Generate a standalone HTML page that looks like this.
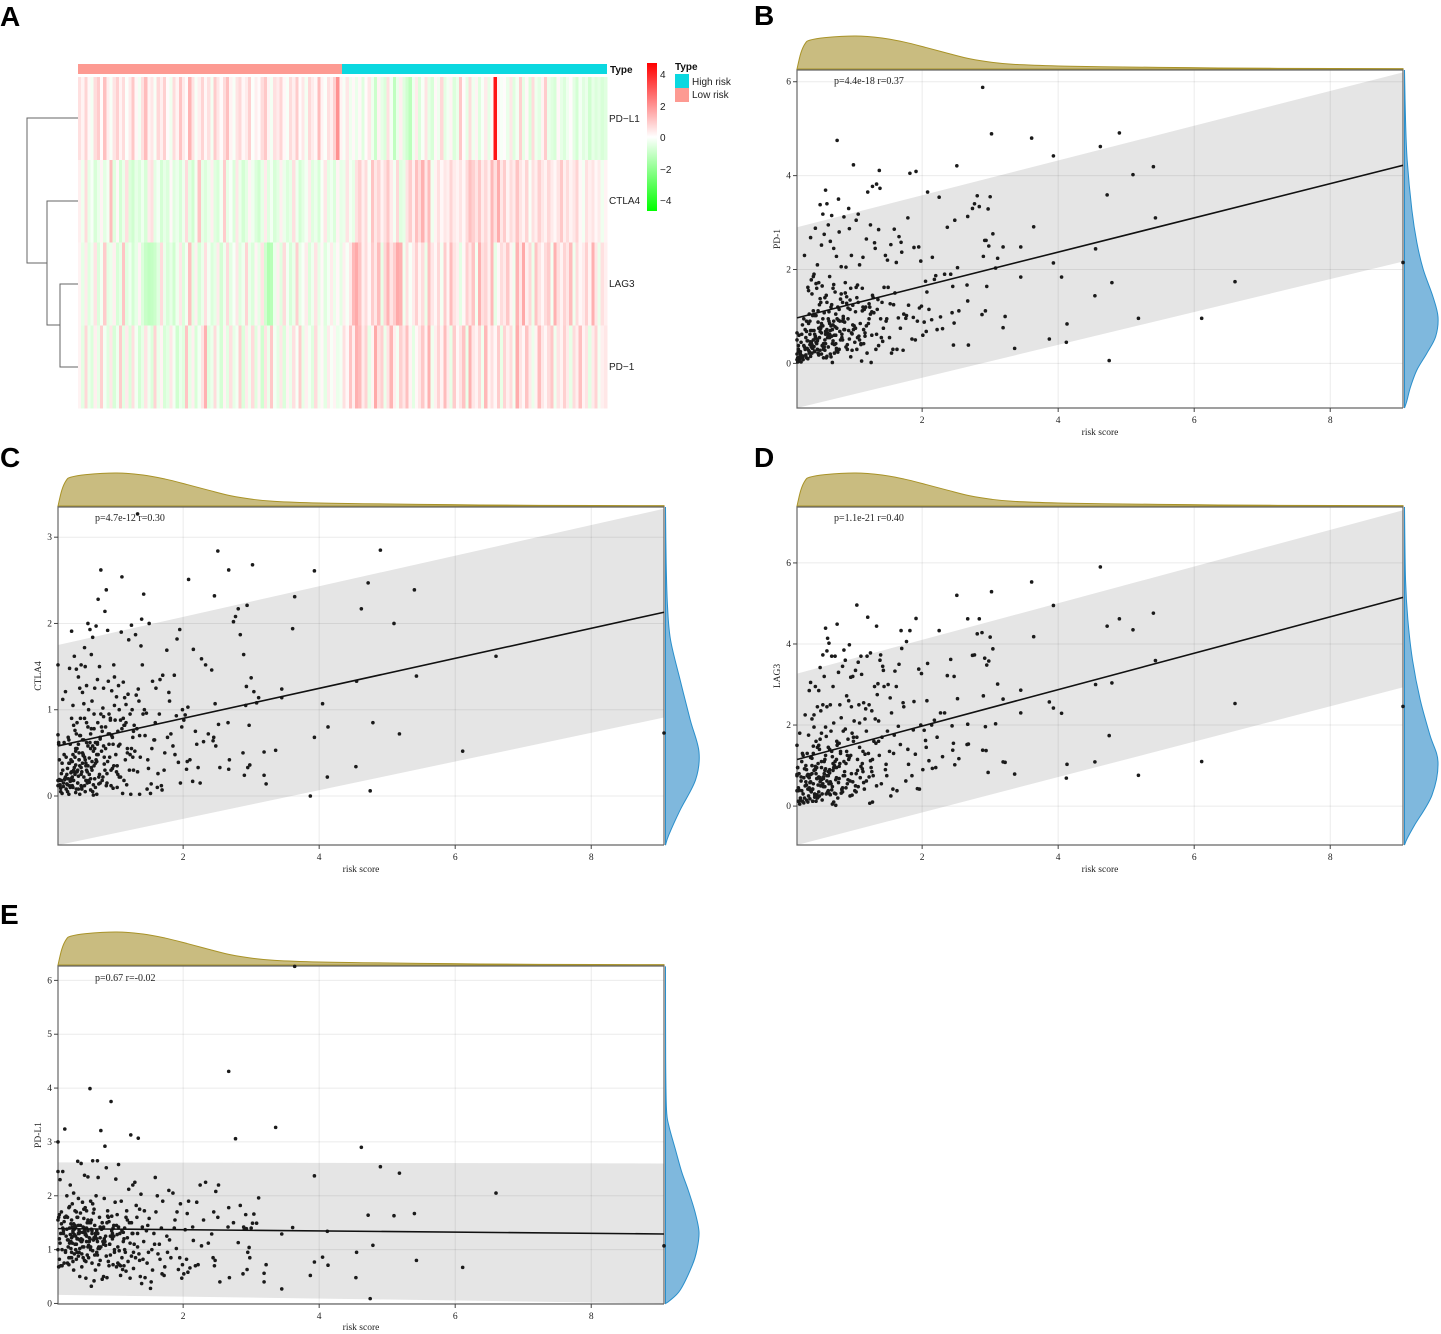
<!DOCTYPE html>
<html lang="en">
<head>
<meta charset="utf-8">
<title>Risk score and immune checkpoint correlations</title>
<style>
html,body{margin:0;padding:0;background:#fff;}
svg{display:block;filter:blur(0.3px);}
.letter{font-family:"Liberation Sans",sans-serif;font-weight:700;font-size:28px;fill:#000;}
.hm{font-family:"Liberation Sans",sans-serif;font-size:10px;fill:#222;}
.hmb{font-family:"Liberation Sans",sans-serif;font-size:10px;font-weight:700;fill:#111;}
.ser{font-family:"Liberation Serif",serif;font-size:9.5px;fill:#222;}
.stat{font-family:"Liberation Serif",serif;font-size:10px;fill:#222;}
</style>
</head>
<body>
<svg id="figure" xmlns="http://www.w3.org/2000/svg" width="1441" height="1334" viewBox="0 0 1441 1334">
  <rect x="0" y="0" width="1441" height="1334" fill="#fff"/>

  <text class="letter" x="0" y="26">A</text>
  <text class="letter" x="754" y="25">B</text>
  <text class="letter" x="0" y="467">C</text>
  <text class="letter" x="754" y="467">D</text>
  <text class="letter" x="0" y="924">E</text>

  <g id="heatmap">
    <g fill="none" stroke="#666" stroke-width="1">
      <path d="M78 118H27V263H47"/>
      <path d="M78 201H47V325H60"/>
      <path d="M78 284H60V367H78"/>
    </g>
    <rect x="78" y="64" width="264" height="10" fill="#fd9a92"/>
    <rect x="342" y="64" width="265" height="10" fill="#0bd8e0"/>
    <g id="heat-cells" shape-rendering="crispEdges"></g>
    <text class="hmb" x="610" y="73">Type</text>
    <text class="hm" x="609" y="122">PD−L1</text>
    <text class="hm" x="609" y="204">CTLA4</text>
    <text class="hm" x="609" y="287">LAG3</text>
    <text class="hm" x="609" y="370">PD−1</text>
    <defs>
      <linearGradient id="cbar" x1="0" y1="0" x2="0" y2="1">
        <stop offset="0" stop-color="#ff0000"/>
        <stop offset="0.5" stop-color="#ffffff"/>
        <stop offset="1" stop-color="#00ff00"/>
      </linearGradient>
    </defs>
    <rect x="647" y="63" width="10" height="148" fill="url(#cbar)"/>
    <text class="hm" x="660" y="78">4</text>
    <text class="hm" x="660" y="110">2</text>
    <text class="hm" x="660" y="141">0</text>
    <text class="hm" x="660" y="173">−2</text>
    <text class="hm" x="660" y="204">−4</text>
    <text class="hmb" x="675" y="70">Type</text>
    <rect x="675" y="74" width="14" height="14" fill="#0bd8e0"/>
    <rect x="675" y="88" width="14" height="14" fill="#fd9a92"/>
    <text class="hm" x="692" y="85">High risk</text>
    <text class="hm" x="692" y="98">Low risk</text>
  </g>

  <g id="panel-b"></g>
  <g id="panel-c"></g>
  <g id="panel-d"></g>
  <g id="panel-e"></g>

  <g>
    <text class="stat" x="834" y="84">p=4.4e-18 r=0.37</text>
    <text class="ser" x="1100" y="435" text-anchor="middle">risk score</text>
    <text class="ser" transform="translate(780,239) rotate(-90)" text-anchor="middle">PD-1</text>
  </g>
  <g>
    <text class="stat" x="95" y="521">p=4.7e-12 r=0.30</text>
    <text class="ser" x="361" y="872" text-anchor="middle">risk score</text>
    <text class="ser" transform="translate(41,676) rotate(-90)" text-anchor="middle">CTLA4</text>
  </g>
  <g>
    <text class="stat" x="834" y="521">p=1.1e-21 r=0.40</text>
    <text class="ser" x="1100" y="872" text-anchor="middle">risk score</text>
    <text class="ser" transform="translate(780,676) rotate(-90)" text-anchor="middle">LAG3</text>
  </g>
  <g>
    <text class="stat" x="95" y="981">p=0.67 r=-0.02</text>
    <text class="ser" x="361" y="1330" text-anchor="middle">risk score</text>
    <text class="ser" transform="translate(41,1135) rotate(-90)" text-anchor="middle">PD-L1</text>
  </g>
</svg>

<script>
// ---------- heatmap values (one array per gene, left to right) ----------
const heatPdl1 = [
.8,.3,1.1,.2,-.3,.9,1.3,.1,1.6,.4,-.2,.7,1.2,.3,.9,-.1,
.5,1.4,.2,-.3,.8,1.7,.3,.6,-.2,1.0,.4,1.2,.1,-.4,.9,.3,
1.5,.5,.1,1.9,.7,-.2,.4,1.1,.2,.8,-.3,1.3,.6,.1,.9,1.6,
.3,-.2,.7,1.0,.2,.5,1.2,-.1,.4,.1,.9,1.4,.3,-.3,.8,.5,
1.1,.2,-.2,.9,.4,1.3,.1,.6,-.3,1.0,.5,.2,1.7,.3,-.1,.8,
.4,1.2,2.8,.3,-.2,.6,-.4,.2,
-.5,.2,-.8,.1,.6,-.4,-1.3,.3,-.6,-.9,.8,-.3,-1.6,-.5,.4,-.8,
-1.2,-1.7,-.4,.5,-.9,-.2,.7,-.6,-1.0,.2,-.4,1.0,-.7,-.3,.3,-.9,
-.5,1.4,.1,-.6,.9,-.4,.3,-.8,-.2,.5,-.6,.2,6,.3,-.2,.1,
-.5,.6,-.8,-.3,1.2,-.6,.2,-.9,.9,-.4,-.7,.3,1.3,-.5,-.8,-1.0,
.2,-.6,-.9,-.4,.1,-.7,-1.1,-.3,-.8,-.5,-1.2,-.6,-.9,-.7,-1.0,-.8
];
const heatCtla4 = [
.4,-.4,.9,-.6,-.2,-1.0,-.5,.3,-.7,-.3,1.7,-.8,.2,-1.1,-.5,.8,
-.9,-1.2,-.6,-.9,-.4,-1.0,.5,.8,-.7,-.3,-1.1,-.6,-.9,.2,-.8,-.5,
-1.0,-.4,.9,-.7,-1.2,-.3,1.5,-.6,-.9,-.5,.4,-.8,-1.0,-.3,1.3,-.6,
-.2,-.9,.6,-.5,-1.1,-.7,.3,-.4,-.9,-1.2,-.6,.5,-.8,-.3,-1.0,-.7,
.4,-.5,-.9,-.6,.8,-.4,-1.1,-.7,-.3,.5,-.8,-.5,-1.0,-.2,.6,-.7,
-.4,-.9,.3,-.6,-.5,.7,-.3,-.6,
.8,1.2,.4,.9,-.2,1.5,.6,1.1,.3,.8,1.4,.5,-.3,1.0,-.8,-.6,
.7,1.3,.4,1.6,.9,2.0,.6,1.7,-.4,.3,.8,.2,.6,.4,1.1,.5,
.3,.7,.2,.9,1.6,1.2,.7,1.4,.5,1.0,.4,1.8,.8,2.1,.6,1.3,
.3,.9,.5,1.5,.7,.3,1.1,-.2,.8,.4,1.2,.6,.3,1.0,.5,.2,
.7,1.4,.4,.9,.3,.6,1.1,.2,-.3,.8,.4,.7,.2,.5,-.4,.3
];
const heatLag3 = [
.3,-.6,.5,-.8,-.4,.7,-.9,-.3,1.3,-.7,-.5,.4,-1.0,-.6,1.5,-.8,
-.4,-1.1,-.6,.3,-.9,-1.4,-1.6,-1.5,-1.3,-.8,.9,-.5,-1.0,-.6,-1.2,-.4,
.6,-.9,-.3,1.6,-.7,.4,-1.0,-.5,.8,-.3,-.9,-.6,.5,-1.1,-.4,.9,
-.7,-.2,.6,-.8,-.4,1.1,-.5,-.9,.3,-.6,.7,-1.2,-2.0,-1.8,-.5,.4,
-.8,.9,-.3,-1.0,-.5,1.2,-.6,-.2,.5,-.9,-.4,.7,-.6,.2,-.8,-.3,
.5,-.5,.2,-.7,.4,-.2,.6,1.8,
2.2,1.5,.4,.9,.2,1.3,.6,1.7,-.6,1.0,1.9,.7,1.3,2.2,2.0,-.4,
.8,-.2,.5,1.2,.3,.9,-.5,1.6,.6,.2,1.0,-.3,1.3,.3,1.7,.7,
.4,-.7,.2,1.2,.6,1.5,-.3,2.0,.8,1.1,.4,1.8,-.6,.2,.9,.5,
1.4,.3,-.4,1.9,.6,2.2,.4,1.0,-.5,1.5,.7,.2,.9,1.3,-.3,2.0,
.8,.3,1.1,.6,1.7,-.4,.9,.2,.5,1.2,.3,2.0,.6,-.5,.8,.4
];
const heatPd1 = [
.3,-.7,1.0,-.5,-.9,.4,-.6,1.2,-.3,-.8,.6,-1.0,-.4,1.3,-.7,.5,
-.9,.8,-.3,-1.1,-.6,.7,-.4,-.9,1.1,-.5,.3,-1.0,-.7,.6,-.3,-1.2,
-.5,-.8,1.5,-.6,.4,-1.0,-.3,.7,2.0,-.8,-.5,.9,-.4,-1.1,.3,-.7,
.8,-.6,-.3,1.2,-.9,.5,-.4,.9,-.8,.3,-1.2,.7,-.5,1.4,-.3,-.7,
.6,-.9,.3,-.5,.8,-.2,1.3,-.6,.4,-.3,-.8,.9,-.4,.2,-.7,.5,
-.2,.3,-.5,-.3,.8,.2,1.5,.4,
2.0,1.7,.5,1.1,-.6,.3,2.2,.8,1.2,-.5,.7,1.9,.4,-.3,1.2,.6,
1.6,.3,-.7,.2,.6,1.4,.3,2.0,-.4,.4,1.1,.3,1.7,.5,-.6,1.3,
.2,.7,1.5,-.5,2.0,.6,.3,1.0,-.4,1.8,.3,.8,.2,1.3,-.6,1.1,
.4,.9,-.3,2.1,.7,.2,1.5,.5,-.5,.3,1.7,.6,.2,.9,1.4,-.4,
.7,.3,1.2,.5,-.6,.9,.4,1.6,.3,.7,-.7,.5,1.1,-.3,.4,.6
];
const heatRows = [heatPdl1, heatCtla4, heatLag3, heatPd1];

// ---------- scatter values, one entry per sample, same order in every array ----------
const riskScore = [
9.07,6.6,6.11,5.43,5.4,5.18,5.1,4.9,4.79,4.75,
4.72,4.62,4.55,4.54,4.13,4.12,4.05,3.93,3.93,3.87,
3.64,3.61,3.45,3.45,3.36,3.22,3.19,3.19,3.11,3.08,
3.04,3.02,3.0,2.98,2.97,2.95,2.94,2.93,2.92,2.9,
2.89,2.88,2.84,2.81,2.77,2.74,2.68,2.67,2.67,2.66,
2.54,2.52,2.51,2.48,2.47,2.46,2.45,2.44,2.42,2.37,
2.33,2.3,2.27,2.25,2.22,2.2,2.18,2.15,2.14,2.1,
2.08,2.07,2.06,2.05,2.03,2.01,1.99,1.98,1.96,1.95,
1.93,1.91,1.9,1.88,1.87,1.85,1.82,1.8,1.79,1.77,
1.76,1.73,1.72,1.7,1.69,1.68,1.66,1.65,1.63,1.62,
1.6,1.59,1.57,1.55,1.54,1.53,1.52,1.5,1.49,1.47,
1.46,1.44,1.43,1.42,1.4,1.39,1.38,1.37,1.36,1.35,
1.34,1.33,1.32,1.31,1.3,1.29,1.28,1.27,1.26,1.25,
1.24,1.23,1.22,1.21,1.2,1.19,1.18,1.17,1.16,1.15,
1.14,1.13,1.12,1.11,1.1,1.09,1.08,1.07,1.06,1.05,
1.04,1.03,1.02,1.01,1,.99,.98,.97,.96,.95,
.95,.94,.93,.92,.91,.9,.89,.88,.87,.86,
.85,.84,.83,.82,.81,.8,.79,.78,.77,.76,
.75,.745,.74,.73,.73,.72,.71,.7,.7,.69,
.68,.68,.67,.66,.66,.65,.64,.64,.63,.62,
.62,.61,.6,.6,.59,.58,.58,.57,.56,.56,
.55,.54,.54,.53,.52,.52,.51,.5,.5,.49,
.48,.48,.47,.46,.46,.45,.44,.44,.43,.42,
.42,.41,.4,.4,.39,.38,.38,.37,.36,.36,
.35,.34,.34,.33,.32,.32,.31,.3,.3,.29,
.28,.28,.27,.26,.25,.24,.23,.22,.21,.2,
.19,.18,.17,.16,.16,.16,.16,.17,.18,.2,
1.12,1.05,.98,.92,.88,.84,.8,.77,.74,.71,
1.22,1.1,1.02,.93,.86,.82,.78,.72,.68,.64,
.6,.57,.53,.5,.47,.43,.39,.36,.33,.29,
.66,.62,.58,.55,.52,.48,.45,.41,.37,.34,
.7,.65,.61,.56,.51,.46,.42,.38,.35,.31,
1.58,1.48,1.41,1.33,1.27,1.18,1.13,1.08,1.03,.99,
.94,.9,.87,.83,.79,.76,.73,.69,.67,.63,
.59,.55,.52,.49,.46,.44,.41,.39,.37,.33,
1.36,1.26,1.16,1.06,.97,.91,.85,.81,.75,.71,
.67,.64,.6,.57,.54,.5,.47,.43,.4,.36,
1.24,1.14,1.04,.96,.89,.83,.78,.74,.69,.65,
.62,.58,.55,.51,.48,.45,.42,.38,.35,.32,
.3,.27,.25,.24,.22,.21,.19,.18,.23,.26
];
const pd1Values = [
2.15,1.74,.96,3.1,4.19,.96,4.02,4.91,1.72,.06,
3.59,4.62,2.44,1.44,.84,.45,1.84,4.42,2.14,.52,
2.91,4.8,1.84,2.48,.32,1.0,.76,2.48,2.24,2.03,
2.76,4.89,3.55,2.5,3.29,1.64,2.62,1.12,2.62,2.28,
5.88,1.04,3.34,3.57,3.4,3.3,.39,1.33,3.13,1.67,
1.12,2.04,4.21,3.05,.86,.39,1.64,1.08,1.9,2.9,
1.9,.74,.99,3.54,.72,1.87,1.79,2.26,.93,1.15,
3.65,1.52,.68,1.75,.88,.6,1.22,2.18,1.18,2.48,
.9,4.09,.5,2.47,.98,.52,4.05,1.24,3.1,1.02,
.96,1.05,.28,2.37,2.58,.75,2.7,.97,.3,2.15,
1.5,2.86,.3,.22,2.53,1.27,.55,1.62,2.2,.9,
2.3,1.62,.75,.47,.55,.95,3.73,4.11,2.85,1.36,
1.15,3.82,.3,2.45,2.57,1.08,1.4,3.77,.6,.02,
2.95,1.2,1.27,.85,3.65,.22,2.65,1.2,.65,1.15,
.72,2.26,1.6,.05,.42,.85,2.1,.58,3.18,1.67,
.3,3.05,1.1,.45,.8,4.23,1.24,.63,2.3,1.6,
.14,1.15,2.87,3.3,.95,.4,1.42,2.05,1.72,.72,
3.12,.95,1.3,.55,2.06,1.37,.9,2.8,3.5,.24,
4.75,.75,2.28,1.05,.6,1.52,.22,2.45,1.68,.48,
.02,.72,3.15,1.2,.14,2.6,.55,1.85,.9,.35,
2.95,.65,1.3,3.4,.12,3.69,.68,.28,2.75,1.08,
.42,3.18,.95,1.65,.2,2.52,.75,1.38,3.38,.55,
.18,1.72,.88,2.1,.3,1.6,1.02,.45,2.88,.62,
.25,1.9,.5,1.12,.32,1.48,.7,1.78,.15,2.68,
.4,1.05,.22,.85,1.62,.1,.48,.9,.12,.55,
.3,.72,2.3,.38,.08,.16,.62,.03,.2,.1,
.05,.25,.12,.65,.5,.08,.2,.03,.3,.14,
1.12,.55,.82,.7,.35,1.0,.5,.92,.28,.6,
.95,.4,.75,.52,.88,.62,.3,.78,.42,.85,
.72,.5,.38,.68,.22,.58,.32,.46,.28,.18,
.8,.6,.42,.3,.65,.2,.52,.36,.45,.25,
.9,.7,.55,.35,.78,.48,.26,.4,.62,.32,
1.25,.95,1.3,.62,1.45,.8,1.2,.5,1.62,.72,
1.35,.3,1.5,.9,.68,1.2,.42,1.6,.58,1.1,
1.45,.33,.85,1.25,.5,1.7,.7,1.02,.35,1.55,
.38,1.1,.58,1.3,.28,1.18,.72,1.48,.95,.4,
1.25,.62,.15,1.4,.8,.28,1.12,.55,1.85,.7,
1.05,.42,1.4,.65,1.28,.5,1.15,.32,.82,.2,
.95,.62,.12,1.3,.75,.42,1.02,.22,.9,.48,
.68,.35,.15,.82,.45,.25,.6,.38,.12,.95
];
const ctla4Values = [
.73,1.62,.52,1.39,2.39,.72,2.0,2.85,.85,.06,
2.47,2.17,1.33,.34,.8,.22,1.07,2.61,.68,0,
2.31,1.94,1.24,1.14,.53,.14,.24,.51,1.14,1.08,
1.21,2.68,1.37,.36,.82,.33,2.21,1.27,1.05,.24,
1.64,.5,1.87,2.17,2.08,2.02,.42,2.62,.31,.85,
.33,.83,2.84,.58,1.07,2.32,.68,.64,1.46,.72,
1.52,.63,1.59,.15,.33,.6,.75,1.7,.17,.42,
2.51,1.03,.4,.31,.94,.88,1.0,.8,.15,1.93,
.39,1.82,.93,.48,1.4,.58,.72,1.1,1.2,.68,
1.69,.5,.3,1.4,.07,.12,1.35,.95,.26,.1,
1.25,.85,.65,1.33,.55,.14,.03,2.0,.32,.08,
.96,.7,1.0,2.34,1.52,2.05,1.74,.45,.02,1.1,
1.24,3.27,.78,1.17,1.87,.52,.82,.3,.68,1.0,
1.98,.02,.95,.3,1.81,1.18,.5,.13,1.06,.42,
1.14,.82,1.32,.03,2.54,1.9,.22,.6,1.0,1.28,
.75,.1,1.15,.48,.88,1.38,1.52,.09,.32,.7,
1.22,.12,.9,.45,.6,1.33,1.92,.26,2.39,.8,
2.14,.37,1.25,1.02,.18,.52,2.62,.66,1.5,.14,
2.28,.85,1.35,.02,.4,1.97,.62,1.25,.2,.95,
.01,.52,1.84,1.1,.3,1.64,.72,.07,1.93,.44,
.16,1.0,2.0,.58,.28,1.28,.85,.38,1.5,.05,
1.72,.22,1.07,.47,1.2,.65,.1,1.52,.33,.9,
.02,1.25,.42,.6,1.38,.15,.85,.28,1.47,.52,
.04,.76,1.62,.33,.18,.48,1.05,.12,1.91,.28,
.2,.6,.1,1.48,.38,.02,.68,.13,.05,.25,
.45,.08,1.21,.19,.62,.11,1.12,.03,.18,.09,
.13,.18,.6,1.52,.71,.18,.12,.62,.19,.05,
.9,.58,.35,.72,.15,.45,.8,.25,.62,.38,
.48,.78,.28,.88,.55,.22,.68,.42,.13,.55,
.35,.18,.48,.25,.42,.08,.3,.2,.38,.14,
.4,.25,.3,.12,.5,.35,.15,.45,.22,.17,
.55,.33,.18,.42,.28,.23,.36,.1,.27,.2,
.65,.42,.95,.28,.75,.55,.18,.88,.35,1.05,
.3,.72,.12,.58,.95,.22,.48,.78,.05,.62,
.15,.9,.38,.7,.08,.55,.25,.82,.4,.12,
.7,.45,.85,.22,.6,.95,.3,.75,.48,.1,
.58,.2,.8,.35,.65,.12,.5,.72,.28,.9,
.55,.82,.25,.68,.4,.92,.15,.6,.35,.78,
.25,.62,.45,.08,.7,.3,.55,.18,.42,.65,
.32,.22,.48,.15,.38,.26,.12,.42,.3,.2
];
const lag3Values = [
2.46,2.53,1.1,3.59,4.76,.76,4.35,4.62,3.04,1.74,
4.44,5.9,3.0,1.09,1.03,.69,2.29,4.95,2.42,2.57,
4.18,5.53,2.3,2.86,.79,1.08,1.09,2.64,3.01,2.03,
3.88,5.29,4.17,3.58,.83,3.48,1.37,1.96,3.65,2.72,
1.38,4.28,4.62,4.25,3.73,3.72,1.53,4.62,2.02,1.52,
1.17,2.65,5.2,1.02,3.2,1.55,1.38,1.98,3.62,3.22,
2.3,1.22,2.3,4.33,1.7,.95,2.12,.93,2.0,1.12,
3.52,2.6,1.45,1.62,1.87,.9,3.27,2.0,.42,3.38,
.43,4.63,1.28,2.58,1.88,.75,4.33,1.03,1.4,4.06,
.62,2.45,2.55,3.89,4.33,1.52,3.5,1.97,.38,2.95,
3.33,1.75,.42,2.3,.25,2.67,1.35,3.0,1.85,1.03,
.9,2.95,3.35,3.45,.55,3.73,3.6,1.25,2.1,3.02,
2.75,4.44,1.55,2.15,2.95,1.6,.75,.1,2.35,.95,
3.78,.07,2.5,1.3,4.66,3.7,.62,2.4,2.15,.42,
2.55,1.35,.92,3.25,3.7,.7,2.05,2.5,3.55,1.15,
4.96,.8,3.35,.38,2.1,1.7,3.2,.27,2.45,1.25,
3.18,.25,3.98,2.6,1.65,.55,2.72,1.05,3.6,.75,
3.85,1.85,3.45,.42,2.18,1.3,2.5,.98,3.3,.2,
4.49,1.6,1.15,.02,.65,3.7,1.0,2.05,.1,2.95,
.05,1.22,3.7,.55,1.85,2.5,.9,.3,4.02,1.45,
.75,4.14,3.83,2.45,.3,1.95,4.39,.48,3.2,1.1,
.72,3.73,2.5,.15,1.8,.95,2.35,.6,3.42,1.4,
.35,2.85,1.05,.2,2.45,.68,1.6,.12,2.95,.9,
.28,2.25,.55,1.48,.12,.8,2.15,.38,3.05,1.2,
.18,2.85,.7,1.75,.1,.42,1.3,.9,.15,1.0,
.5,2.25,.2,.08,1.25,.12,.38,.72,.14,1.8,
.4,.38,.95,1.5,.75,.78,.38,.95,.12,.05,
1.05,.88,.6,1.15,.45,.75,1.35,.58,.95,.32,
.72,.98,.5,1.2,.85,.4,.68,1.1,.48,.82,
.62,.88,.3,.7,.52,.98,.42,.78,.25,.6,
.55,.38,.92,.48,.65,.72,.28,.88,.35,.45,
.95,.6,.35,.8,.5,.68,.22,1.0,.4,.75,
1.3,.75,1.7,.5,1.15,1.85,.85,1.45,.35,1.6,
.62,1.25,1.9,.45,1.05,1.55,.3,.88,1.35,.55,
1.72,.68,1.1,.25,1.45,.8,1.95,.42,1.2,.72,
1.6,.85,1.28,.48,1.8,.65,1.1,.32,1.5,.95,
.4,1.4,.75,1.15,.55,1.65,.22,.9,1.3,.6,
1.12,.58,1.7,.8,1.35,.35,1.55,.7,1.05,.28,
.85,1.25,.48,.65,1.5,.95,.3,1.18,.58,.78,
.52,.92,.3,1.3,.62,.2,.8,.45,1.1,.7
];
const pdl1Values = [
1.07,2.05,.67,.8,1.67,2.42,1.63,2.54,1.08,.09,
1.64,2.9,.95,.48,.71,1.34,.86,2.37,.77,.52,
6.26,1.41,.27,1.29,3.27,.72,.56,.4,1.96,1.49,
1.66,1.49,1.4,.85,1.04,.95,.63,1.39,1.65,1.38,
1.42,.55,1.82,1.13,3.06,1.5,.48,4.31,1.78,1.42,
.4,2.2,1.6,2.08,.8,.7,1.7,.85,1.29,1.12,
2.25,1.55,1.07,2.2,.72,1.88,.7,1.17,1.42,.66,
1.9,.58,1.67,.82,1.37,.55,.72,.47,1.85,.85,
.63,1.7,1.02,1.55,1.4,2.05,.85,1.18,2.1,.95,
1.25,.68,.52,1.9,.55,1.4,.82,1.1,.92,2.0,
1.7,2.34,1.3,.62,1.0,.4,.28,1.58,.95,.75,
1.35,.48,1.72,1.15,1.42,.37,2.03,.5,1.75,.92,
3.07,1.05,1.6,1.82,.85,2.25,1.1,.65,2.2,1.3,
.88,3.13,.47,1.5,2.12,.78,1.22,1.72,.6,.95,
1.4,.7,1.15,.63,.85,1.9,.52,1.3,.72,2.58,
1.05,1.28,.68,2.31,1.88,.95,1.45,.72,1.2,1.62,
1.35,3.75,.9,1.1,1.52,.78,1.72,.48,2.52,1.25,
2.92,1.95,.5,1.15,.45,1.38,3.21,.8,1.6,1.05,
2.34,1.3,2.65,.95,1.2,2.0,.62,1.45,.9,.42,
1.68,1.18,2.65,.75,1.35,.32,1.0,1.9,3.99,1.5,
1.22,.85,1.55,2.35,.9,1.4,1.15,.47,1.78,1.28,
2.38,1.05,1.75,.85,1.32,1.88,.68,1.15,2.6,1.45,
1.02,.5,1.3,1.95,.88,2.64,1.2,1.6,.82,1.42,
1.1,1.72,.92,1.38,2.05,.78,1.25,1.85,.95,1.55,
1.15,2.2,.85,1.4,1.78,.72,1.05,1.6,.75,2.0,
1.25,1.62,.98,3.24,.75,1.35,2.45,.7,1.48,1.3,
2.3,1.65,.68,3.0,1.55,2.45,1.0,1.6,1.2,.7,
1.32,1.42,1.25,1.1,1.5,1.2,1.38,1.02,1.15,1.3,
1.12,1.35,1.45,1.25,1.08,1.4,1.22,1.3,1.18,1.5,
1.05,1.28,1.42,1.18,1.35,1.1,1.48,1.22,1.12,1.38,
1.3,1.15,1.25,1.4,1.05,1.32,1.2,1.1,1.42,1.28,
1.22,1.38,1.08,1.3,1.15,1.45,1.25,1.35,1.02,1.18,
1.1,1.45,.82,1.3,.95,1.55,1.2,.7,1.65,1.0,
1.25,1.6,.88,1.42,1.05,.72,1.35,1.75,.98,1.2,
1.5,.8,1.18,1.68,1.3,.95,1.45,.62,1.12,1.8,
.8,1.3,1.6,.98,1.4,.7,1.15,1.5,1.02,1.25,
1.85,1.05,1.35,.78,1.58,1.2,.95,1.7,1.28,.85,
1.5,1.0,.75,1.3,1.62,1.1,1.42,.9,1.22,1.55,
1.05,1.72,1.35,.92,1.18,1.6,1.0,1.32,1.48,.85,
1.18,.95,1.52,1.3,1.0,1.7,1.12,.82,1.4,1.6
];

// ---------- regression fit and prediction band at the two ends of the x range ----------
const fitEndsX = [0.16, 9.07];
const fitPd1 = [0.97, 4.22];
const upperPd1 = [2.9, 6.2];
const lowerPd1 = [-0.95, 2.17];
const fitCtla4 = [0.58, 2.13];
const upperCtla4 = [1.75, 3.33];
const lowerCtla4 = [-0.57, 0.91];
const fitLag3 = [1.15, 5.15];
const upperLag3 = [3.27, 7.3];
const lowerLag3 = [-0.96, 2.93];
const fitPdl1 = [1.39, 1.29];
const upperPdl1 = [2.62, 2.6];
const lowerPdl1 = [0.16, 0.0];

// ---------- marginal densities ----------
const topDensityX = [0.16,0.216,0.28,0.345,0.57,1.02,1.41,1.73,2.06,2.38,2.7,3.03,3.35,4,4.64,5.94,7.23,9.07];
const topDensityH = [0,0.48,0.77,0.87,0.95,1,0.94,0.82,0.65,0.475,0.31,0.2,0.14,0.09,0.07,0.04,0.02,0.01];
const densPd1Y = [6.25,5.2,4.33,3.27,2.57,2.0,1.42,0.99,0.57,0.22,-0.14,-0.5,-0.8,-0.95];
const densPd1H = [0,0.03,0.08,0.22,0.37,0.56,0.85,1,0.93,0.67,0.37,0.18,0.07,0];
const densCtla4Y = [3.35,2.7,2.2,1.81,1.34,0.88,0.51,0.19,-0.16,-0.45,-0.57];
const densCtla4H = [0,0.02,0.06,0.15,0.44,0.74,1,0.9,0.44,0.1,0];
const densLag3Y = [7.38,5.6,4.6,3.6,2.62,1.75,1.09,0.27,-0.47,-0.8,-0.96];
const densLag3H = [0,0.03,0.1,0.24,0.47,0.76,1,0.82,0.3,0.08,0];
const densPdl1Y = [6.26,4.5,3.6,3.3,2.85,2.45,2.1,1.7,1.33,1.0,0.71,0.25,0.05,0];
const densPdl1H = [0,0.005,0.03,0.1,0.3,0.48,0.68,0.88,1,0.94,0.8,0.44,0.12,0];

// ---------- tick labels ----------
const xTicks = [2, 4, 6, 8];
const yTicksPd1 = [0, 2, 4, 6];
const yTicksCtla4 = [0, 1, 2, 3];
const yTicksLag3 = [0, 2, 4, 6];
const yTicksPdl1 = [0, 1, 2, 3, 4, 5, 6];

const SVGNS = 'http://www.w3.org/2000/svg';
function mk(parent, tag, attrs) {
  const el = document.createElementNS(SVGNS, tag);
  for (const k in attrs) el.setAttribute(k, attrs[k]);
  parent.appendChild(el);
  return el;
}

// heatmap
const heatLeft = 78, heatRight = 607, heatTop = 77, heatRowH = 82.75;
function heatColor(v) {
  const t = Math.min(1, Math.abs(v) / 6.5);
  const c = Math.round(255 * (1 - t));
  return v >= 0 ? 'rgb(255,' + c + ',' + c + ')' : 'rgb(' + c + ',255,' + c + ')';
}
const heatCells = document.getElementById('heat-cells');
heatRows.forEach(function (row, r) {
  const cw = (heatRight - heatLeft) / row.length;
  row.forEach(function (v, c) {
    const cell = mk(heatCells, 'rect', {x: heatLeft + c * cw, y: heatTop + r * heatRowH, width: cw + 0.4, height: heatRowH + 0.4, fill: heatColor(v)});
    
    
  });
});

// smooth path through points
function smooth(pts) {
  let d = 'M' + pts[0][0].toFixed(2) + ' ' + pts[0][1].toFixed(2);
  for (let i = 0; i < pts.length - 1; i++) {
    const p0 = pts[Math.max(0, i - 1)], p1 = pts[i], p2 = pts[i + 1], p3 = pts[Math.min(pts.length - 1, i + 2)];
    const c1x = p1[0] + (p2[0] - p0[0]) / 6, c1y = p1[1] + (p2[1] - p0[1]) / 6;
    const c2x = p2[0] - (p3[0] - p1[0]) / 6, c2y = p2[1] - (p3[1] - p1[1]) / 6;
    d += 'C' + c1x.toFixed(2) + ' ' + c1y.toFixed(2) + ' ' + c2x.toFixed(2) + ' ' + c2y.toFixed(2) + ' ' + p2[0].toFixed(2) + ' ' + p2[1].toFixed(2);
  }
  return d;
}

function drawPanel(cfg) {
  const g = document.getElementById(cfg.id);
  const L = cfg.left, T = cfg.top, W = 606, H = 338;
  const xMin = fitEndsX[0], xMax = fitEndsX[1];
  const sx = function (v) { return L + (v - xMin) / (xMax - xMin) * W; };
  const sy = function (v) { return T + (cfg.yMax - v) / (cfg.yMax - cfg.yMin) * H; };

  // prediction band
  const band = mk(g, 'polygon', {
    points: sx(fitEndsX[0]) + ',' + sy(cfg.upper[0]) + ' ' + sx(fitEndsX[1]) + ',' + sy(cfg.upper[1]) + ' ' + sx(fitEndsX[1]) + ',' + sy(cfg.lower[1]) + ' ' + sx(fitEndsX[0]) + ',' + sy(cfg.lower[0]),
    fill: '#e5e5e5'
  });
  
  

  // grid
  xTicks.forEach(function (t) {
    const line = mk(g, 'line', {x1: sx(t), x2: sx(t), y1: T, y2: T + H, stroke: 'rgba(0,0,0,0.08)', 'stroke-width': 1});
    
    
  });
  cfg.yTicks.forEach(function (t) {
    const line = mk(g, 'line', {x1: L, x2: L + W, y1: sy(t), y2: sy(t), stroke: 'rgba(0,0,0,0.08)', 'stroke-width': 1});
    
    
  });

  // marginal density on top
  const topPts = topDensityX.map(function (x, i) { return [sx(x), T - 1 - topDensityH[i] * 33]; });
  const topArea = mk(g, 'path', {d: smooth(topPts) + 'L' + (L + W) + ' ' + (T - 1) + 'L' + L + ' ' + (T - 1) + 'Z', fill: '#c9bc80', stroke: '#a99328', 'stroke-width': 1});
  
  

  // marginal density on right
  const rightPts = cfg.densY.map(function (y, i) { return [L + W + 1.5 + cfg.densH[i] * 33.5, sy(y)]; });
  const rightArea = mk(g, 'path', {d: smooth(rightPts) + 'Z', fill: '#7fb8dd', stroke: '#2a8fcb', 'stroke-width': 1});
  
  

  // axes
  const frame = mk(g, 'path', {d: 'M' + (L + W) + ' ' + (T + H) + 'V' + T + 'H' + L + 'V' + (T + H) + 'H' + (L + W), fill: 'none', stroke: '#666', 'stroke-width': 1.2});
  
  

  xTicks.forEach(function (t) {
    const tick = mk(g, 'line', {x1: sx(t), x2: sx(t), y1: T + H, y2: T + H + 4, stroke: '#444', 'stroke-width': 1});
    
    
    const label = mk(g, 'text', {x: sx(t), y: T + H + 15, 'text-anchor': 'middle', 'class': 'ser'});
    label.textContent = t;
    
    
  });
  cfg.yTicks.forEach(function (t) {
    const tick = mk(g, 'line', {x1: L - 4, x2: L, y1: sy(t), y2: sy(t), stroke: '#444', 'stroke-width': 1});
    
    
    const label = mk(g, 'text', {x: L - 6, y: sy(t) + 3, 'text-anchor': 'end', 'class': 'ser'});
    label.textContent = t;
    
    
  });

  // points
  cfg.values.forEach(function (v, i) {
    const dot = mk(g, 'circle', {cx: sx(riskScore[i]), cy: sy(v), r: 1.8, fill: '#1a1a1a'});
    
    
  });

  // regression line
  const fit = mk(g, 'line', {x1: sx(fitEndsX[0]), y1: sy(cfg.fit[0]), x2: sx(fitEndsX[1]), y2: sy(cfg.fit[1]), stroke: '#111', 'stroke-width': 1.6});
  
  
}

drawPanel({id: 'panel-b', left: 797, top: 70, yMax: 6.25, yMin: -0.95, yTicks: yTicksPd1, values: pd1Values, fit: fitPd1, upper: upperPd1, lower: lowerPd1, densY: densPd1Y, densH: densPd1H});
drawPanel({id: 'panel-c', left: 58, top: 507, yMax: 3.35, yMin: -0.568, yTicks: yTicksCtla4, values: ctla4Values, fit: fitCtla4, upper: upperCtla4, lower: lowerCtla4, densY: densCtla4Y, densH: densCtla4H});
drawPanel({id: 'panel-d', left: 797, top: 507, yMax: 7.38, yMin: -0.96, yTicks: yTicksLag3, values: lag3Values, fit: fitLag3, upper: upperLag3, lower: lowerLag3, densY: densLag3Y, densH: densLag3H});
drawPanel({id: 'panel-e', left: 58, top: 966, yMax: 6.267, yMin: -0.01, yTicks: yTicksPdl1, values: pdl1Values, fit: fitPdl1, upper: upperPdl1, lower: lowerPdl1, densY: densPdl1Y, densH: densPdl1H});
</script>
</body>
</html>
